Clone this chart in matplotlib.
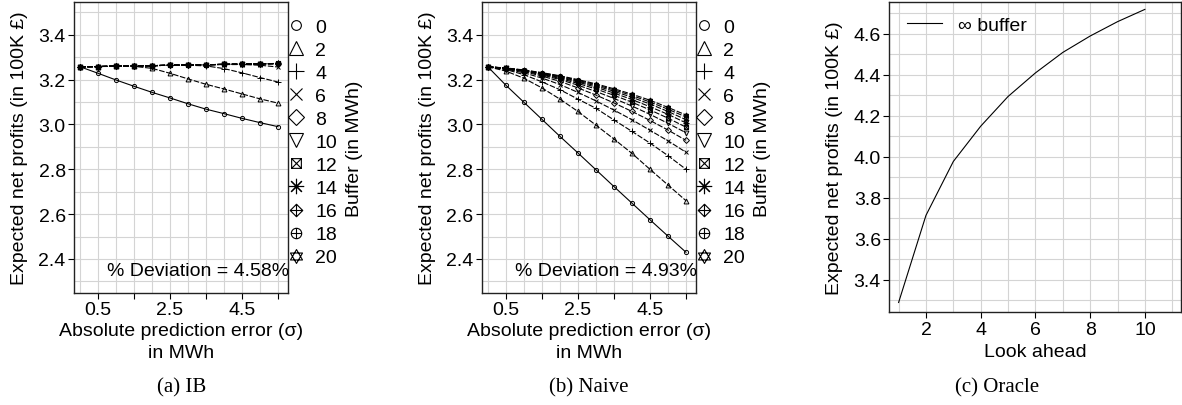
import matplotlib.pyplot as plt
import numpy as np
from matplotlib.path import Path
from matplotlib.lines import Line2D
from matplotlib.ticker import MultipleLocator, FixedLocator

FS = 14
plt.rcParams['font.family'] = ['Liberation Sans', 'DejaVu Sans']
plt.rcParams['font.size'] = FS

# ---- data ----
sigma = [0.0, 0.5, 1.0, 1.5, 2.0, 2.5, 3.0, 3.5, 4.0, 4.5, 5.0, 5.5]
buffers = [0, 2, 4, 6, 8, 10, 12, 14, 16, 18, 20]

# IB
ib_buf0 = [3.257, 3.228, 3.198, 3.170, 3.143, 3.118, 3.092, 3.068, 3.048, 3.027, 3.008, 2.990]
ib_buf2 = [3.257, 3.258, 3.259, 3.259, 3.250, 3.228, 3.203, 3.179, 3.158, 3.136, 3.114, 3.095]
ib_buf4 = [3.257, 3.258, 3.260, 3.261, 3.262, 3.264, 3.264, 3.261, 3.249, 3.230, 3.209, 3.189]
ib_buf6 = [3.257, 3.258, 3.260, 3.261, 3.262, 3.264, 3.265, 3.266, 3.267, 3.267, 3.264, 3.256]
ib_buf8 = [3.257, 3.258, 3.260, 3.261, 3.262, 3.264, 3.265, 3.266, 3.268, 3.269, 3.270, 3.270]
ib_buf10 = [3.257, 3.258, 3.260, 3.261, 3.262, 3.264, 3.265, 3.266, 3.268, 3.269, 3.270, 3.271]
ib_buf12 = [3.257, 3.258, 3.260, 3.261, 3.262, 3.264, 3.265, 3.266, 3.268, 3.269, 3.270, 3.272]
ib_buf14 = [3.257, 3.258, 3.260, 3.261, 3.262, 3.264, 3.265, 3.266, 3.268, 3.269, 3.270, 3.272]
ib_buf16 = [3.257, 3.258, 3.260, 3.261, 3.262, 3.264, 3.265, 3.266, 3.268, 3.269, 3.270, 3.272]
ib_buf18 = [3.257, 3.258, 3.260, 3.261, 3.262, 3.264, 3.265, 3.266, 3.268, 3.269, 3.270, 3.272]
ib_buf20 = [3.257, 3.258, 3.260, 3.261, 3.262, 3.264, 3.265, 3.266, 3.268, 3.269, 3.270, 3.272]

# Naive
nv_buf0 = [3.257, 3.175, 3.099, 3.023, 2.947, 2.873, 2.798, 2.723, 2.649, 2.575, 2.502, 2.430]
nv_buf2 = [3.257, 3.238, 3.206, 3.163, 3.113, 3.058, 2.997, 2.935, 2.871, 2.800, 2.730, 2.660]
nv_buf4 = [3.257, 3.245, 3.222, 3.190, 3.155, 3.113, 3.072, 3.020, 2.969, 2.917, 2.861, 2.800]
nv_buf6 = [3.257, 3.247, 3.230, 3.207, 3.178, 3.143, 3.105, 3.064, 3.021, 2.974, 2.927, 2.876]
nv_buf8 = [3.257, 3.249, 3.235, 3.216, 3.192, 3.163, 3.131, 3.096, 3.058, 3.018, 2.975, 2.929]
nv_buf10 = [3.257, 3.250, 3.238, 3.221, 3.200, 3.175, 3.147, 3.116, 3.082, 3.045, 3.005, 2.963]
nv_buf12 = [3.257, 3.250, 3.239, 3.224, 3.205, 3.183, 3.158, 3.130, 3.099, 3.065, 3.028, 2.988]
nv_buf14 = [3.257, 3.251, 3.240, 3.226, 3.209, 3.189, 3.166, 3.140, 3.111, 3.079, 3.045, 3.007]
nv_buf16 = [3.257, 3.251, 3.241, 3.228, 3.212, 3.193, 3.172, 3.148, 3.121, 3.091, 3.058, 3.021]
nv_buf18 = [3.257, 3.251, 3.242, 3.230, 3.215, 3.197, 3.177, 3.154, 3.129, 3.100, 3.068, 3.033]
nv_buf20 = [3.257, 3.252, 3.243, 3.231, 3.217, 3.200, 3.181, 3.159, 3.135, 3.108, 3.076, 3.042]

# Oracle
look_ahead = [1, 2, 3, 4, 5, 6, 7, 8, 9, 10]
oracle_profit = [3.290, 3.715, 3.978, 4.150, 4.295, 4.410, 4.510, 4.590, 4.660, 4.720]

ib_series = [ib_buf0, ib_buf2, ib_buf4, ib_buf6, ib_buf8, ib_buf10,
             ib_buf12, ib_buf14, ib_buf16, ib_buf18, ib_buf20]
nv_series = [nv_buf0, nv_buf2, nv_buf4, nv_buf6, nv_buf8, nv_buf10,
             nv_buf12, nv_buf14, nv_buf16, nv_buf18, nv_buf20]

# ---- R style pch 1..11 markers ----
M, L, C = Path.MOVETO, Path.LINETO, Path.CLOSEPOLY
sq_x = Path([(-1, -1), (1, -1), (1, 1), (-1, 1), (-1, -1),
             (-1, -1), (1, 1), (-1, 1), (1, -1)],
            [M, L, L, L, C, M, L, M, L])
dia_plus = Path([(0, -1), (1, 0), (0, 1), (-1, 0), (0, -1),
                 (-1, 0), (1, 0), (0, -1), (0, 1)],
                [M, L, L, L, C, M, L, M, L])
plus = Path([(-1, 0), (1, 0), (0, -1), (0, 1)], [M, L, M, L])
circ_plus = Path.make_compound_path(Path.unit_circle(), plus)
h = np.sqrt(3) / 2
david = Path([(0, 1), (h, -0.5), (-h, -0.5), (0, 1),
              (0, -1), (h, 0.5), (-h, 0.5), (0, -1)],
             [M, L, L, C, M, L, L, C])
markers = ['o', '^', '+', 'x', 'D', 'v', sq_x, (8, 2, 0), dia_plus, circ_plus, david]
msize_plot = [3, 3.5, 4, 3.5, 3, 3.5, 3, 4, 3.5, 3, 3.5]
msize_leg = [7, 9.5, 11, 9, 8, 9.5, 7, 11, 9, 7.5, 10]

W, H = 1182, 406
fig = plt.figure(figsize=(W / 100, H / 100), dpi=100)


def px_axes(left, right, top, bottom):
    return fig.add_axes([left / W, (H - bottom) / H, (right - left) / W, (bottom - top) / H])


def style_axes(ax):
    ax.grid(True, which='both', color='#d4d4d4', lw=0.8)
    ax.set_axisbelow(True)
    for s in ax.spines.values():
        s.set_color('#222222')
        s.set_linewidth(1.0)
    ax.tick_params(which='major', direction='out', length=4, width=0.8, pad=2, labelsize=FS)
    ax.tick_params(which='minor', length=0)


def buffer_panel(ax, series, dev):
    for i, ys in enumerate(series):
        ls = '-' if i == 0 else (0, (5, 1.5))
        ax.plot(sigma, ys, color='black', lw=0.8, ls=ls, marker=markers[i],
                ms=msize_plot[i], mfc='none', mec='black', mew=0.7)
    ax.set_xlim(-0.17, 5.78)
    ax.set_ylim(2.248, 3.546)
    ax.xaxis.set_major_locator(FixedLocator([0.5, 1.5, 2.5, 3.5, 4.5, 5.5]))
    ax.set_xticklabels(['0.5', '', '2.5', '', '4.5', ''])
    ax.xaxis.set_minor_locator(MultipleLocator(0.5))
    ax.yaxis.set_major_locator(MultipleLocator(0.2))
    ax.yaxis.set_minor_locator(MultipleLocator(0.1))
    ax.yaxis.set_major_formatter(plt.FormatStrFormatter('%.1f'))
    style_axes(ax)
    ax.set_xlabel('Absolute prediction error (σ)\nin MWh', linespacing=1.4)
    ax.xaxis.set_label_coords(0.5, -0.098)
    ax.set_ylabel('Expected net profits (in 100K £)')
    ax.yaxis.set_label_coords(-0.215, 0.5)
    ax.text(1.005, 0.076, '% Deviation = ' + dev, transform=ax.transAxes,
            ha='right', va='center', fontsize=FS)
    handles = [Line2D([], [], ls='none', marker=markers[i], ms=msize_leg[i],
                      mfc='none', mec='black', mew=0.8) for i in range(len(buffers))]
    ax.legend(handles, [str(b) for b in buffers], loc='upper left',
              bbox_to_anchor=(1.0, 0.944), frameon=False, handlelength=0.85,
              handletextpad=0.55, labelspacing=0.28, borderaxespad=0, borderpad=0,
              fontsize=FS)
    ax.text(1.31, 0.5, 'Buffer (in MWh)', transform=ax.transAxes, rotation=90,
            ha='center', va='center', fontsize=FS)


ax1 = px_axes(74, 288, 3, 294)
buffer_panel(ax1, ib_series, '4.58%')

ax2 = px_axes(481.7, 696, 3, 294)
buffer_panel(ax2, nv_series, '4.93%')

ax3 = px_axes(889.3, 1181, 3, 313.3)
ax3.plot(look_ahead, oracle_profit, color='black', lw=0.8, label='∞ buffer')
ax3.set_xlim(0.66, 11.32)
ax3.set_ylim(3.242, 4.756)
ax3.xaxis.set_major_locator(MultipleLocator(2))
ax3.xaxis.set_minor_locator(MultipleLocator(1))
ax3.yaxis.set_major_locator(MultipleLocator(0.2))
ax3.yaxis.set_minor_locator(MultipleLocator(0.1))
ax3.yaxis.set_major_formatter(plt.FormatStrFormatter('%.1f'))
style_axes(ax3)
ax3.set_xlabel('Look ahead')
ax3.xaxis.set_label_coords(0.5, -0.1)
ax3.set_ylabel('Expected net profits (in 100K £)')
ax3.yaxis.set_label_coords(-0.159, 0.5)
ax3.legend(loc='upper left', bbox_to_anchor=(0.061, 0.955), frameon=False,
           handlelength=1.8, handletextpad=0.8, borderaxespad=0, borderpad=0,
           fontsize=FS)

for xc, cap in [(182, '(a) IB'), (589, '(b) Naive'), (997, '(c) Oracle')]:
    fig.text(xc / W, (H - 388) / H, cap, ha='center', va='center',
             fontsize=15, family=['Liberation Serif', 'DejaVu Serif'])

fig.savefig('out.png', dpi=100)
